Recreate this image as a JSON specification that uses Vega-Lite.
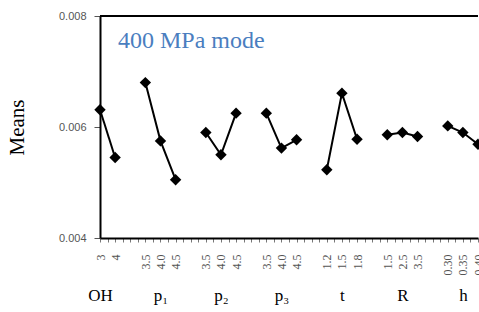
{
  "$schema": "https://vega.github.io/schema/vega-lite/v6.json",
  "width": 378,
  "height": 222,
  "autosize": {"type": "none"},
  "padding": {"left": 100, "top": 16, "right": 1, "bottom": 74},
  "background": "white",
  "config": {"view": {"stroke": null}, "axis": {"grid": false}},
  "title": {"text": "400 MPa mode", "anchor": "start", "frame": "group", "orient": "top", "offset": -62, "dx": 18, "font": "Liberation Serif", "fontSize": 24, "fontWeight": "normal", "color": "#4a7ebf", "baseline": "alphabetic"},
  "datasets": {
    "means": [
      {"g": "OH", "k": "OH|3", "m": 0.00631},
      {"g": "OH", "k": "OH|4", "m": 0.00545},
      {"g": "p1", "k": "p1|3.5", "m": 0.00680},
      {"g": "p1", "k": "p1|4.0", "m": 0.00575},
      {"g": "p1", "k": "p1|4.5", "m": 0.00505},
      {"g": "p2", "k": "p2|3.5", "m": 0.00590},
      {"g": "p2", "k": "p2|4.0", "m": 0.00550},
      {"g": "p2", "k": "p2|4.5", "m": 0.00625},
      {"g": "p3", "k": "p3|3.5", "m": 0.00625},
      {"g": "p3", "k": "p3|4.0", "m": 0.00562},
      {"g": "p3", "k": "p3|4.5", "m": 0.00577},
      {"g": "t", "k": "t|1.2", "m": 0.00523},
      {"g": "t", "k": "t|1.5", "m": 0.00661},
      {"g": "t", "k": "t|1.8", "m": 0.00578},
      {"g": "R", "k": "R|1.5", "m": 0.00586},
      {"g": "R", "k": "R|2.5", "m": 0.00590},
      {"g": "R", "k": "R|3.5", "m": 0.00583},
      {"g": "h", "k": "h|0.30", "m": 0.00602},
      {"g": "h", "k": "h|0.35", "m": 0.00590},
      {"g": "h", "k": "h|0.40", "m": 0.00569}
    ],
    "groups": [
      {"g": "OH"}, {"g": "p₁"}, {"g": "p₂"}, {"g": "p₃"}, {"g": "t"}, {"g": "R"}, {"g": "h"}
    ]
  },
  "resolve": {"scale": {"x": "independent"}, "axis": {"x": "independent"}},
  "layer": [
    {
      "data": {"values": [{}]},
      "mark": {"type": "rule", "color": "black", "strokeWidth": 2},
      "encoding": {
        "y": {"datum": 0.008, "type": "quantitative"}
      }
    },
    {
      "data": {"name": "means"},
      "mark": {"type": "line", "color": "black", "strokeWidth": 2,
        "point": {"shape": "diamond", "size": 130, "filled": true, "color": "black", "opacity": 1}},
      "encoding": {
        "x": {"field": "k", "type": "ordinal",
          "scale": {"type": "point", "padding": 0, "domain": ["OH|3", "_a1", "OH|4", "_a2", "_g1", "_a3", "p1|3.5", "_a4", "p1|4.0", "_a5", "p1|4.5", "_a6", "_g2", "_a7", "p2|3.5", "_a8", "p2|4.0", "_a9", "p2|4.5", "_a10", "_g3", "_a11", "p3|3.5", "_a12", "p3|4.0", "_a13", "p3|4.5", "_a14", "_g4", "_a15", "t|1.2", "_a16", "t|1.5", "_a17", "t|1.8", "_a18", "_g5", "_a19", "R|1.5", "_a20", "R|2.5", "_a21", "R|3.5", "_a22", "_g6", "_a23", "h|0.30", "_a24", "h|0.35", "_a25", "h|0.40"]},
          "axis": {"orient": "bottom", "title": null, "labelExpr": "indexof(datum.value, '|') < 0 ? '' : split(datum.value, '|')[1]", "labelAngle": 270, "labelFont": "Liberation Serif", "labelFontSize": 12, "labelColor": "#555", "labelPadding": 12, "ticks": true, "tickSize": 4, "tickColor": "#777", "tickWidth": 1, "domain": true, "domainColor": "black", "domainWidth": 2, "labelOverlap": false}},
        "y": {"field": "m", "type": "quantitative",
          "scale": {"domain": [0.004, 0.008], "nice": false, "zero": false},
          "axis": {"values": [0.004, 0.006, 0.008], "format": ".3f", "title": "Means", "titleFont": "Liberation Serif", "titleFontSize": 21, "titleFontWeight": "normal", "titleColor": "black", "titlePadding": 31, "labelFont": "Liberation Sans", "labelFontSize": 11, "labelColor": "#555", "labelPadding": 8, "tickSize": 6, "tickColor": "#555", "domainColor": "black", "domainWidth": 2}},
        "detail": {"field": "g"}
      }
    },
    {
      "data": {"name": "groups"},
      "mark": {"type": "point", "opacity": 0},
      "encoding": {
        "x": {"field": "g", "type": "nominal",
          "scale": {"type": "point", "domain": ["OH", "p₁", "p₂", "p₃", "t", "R", "h"], "padding": 0.125, "align": 0},
          "axis": {"orient": "bottom", "title": null, "domain": false, "ticks": false, "labelAngle": 0, "labelFont": "Liberation Serif", "labelFontSize": 17, "labelColor": "black", "labelPadding": 49}},
        "y": {"datum": 0.006, "type": "quantitative"}
      }
    }
  ]
}
